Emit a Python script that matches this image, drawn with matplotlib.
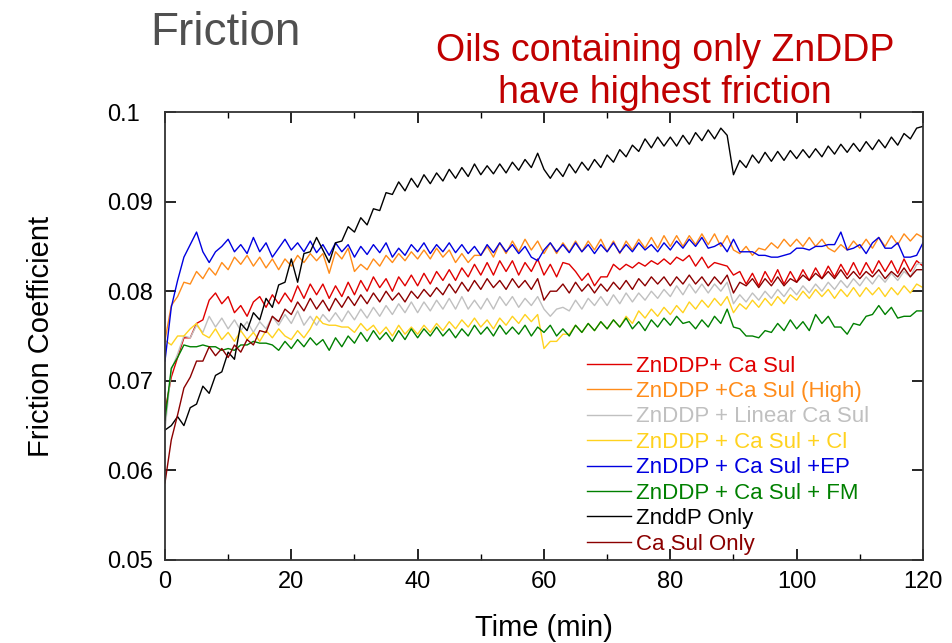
import numpy as np
import matplotlib
matplotlib.use("Agg")
import matplotlib.pyplot as plt

plt.rcParams['font.family'] = ['Liberation Sans', 'DejaVu Sans']

# friction coefficient, sampled every minute, in units of 1e-4
time_min = np.arange(0, 121)

zn_ca = [666, 704, 726, 748, 748, 764, 768, 790, 798, 786,
         794, 776, 784, 772, 788, 794, 782, 796, 786, 798,
         788, 806, 792, 808, 796, 808, 792, 806, 794, 810,
         796, 812, 800, 816, 804, 814, 800, 816, 806, 818,
         806, 820, 808, 822, 812, 824, 812, 826, 816, 830,
         818, 832, 818, 834, 822, 834, 818, 832, 822, 836,
         818, 830, 816, 832, 830, 822, 812, 820, 806, 816,
         816, 830, 824, 830, 826, 832, 828, 834, 830, 836,
         830, 838, 834, 840, 828, 838, 826, 832, 830, 828,
         818, 822, 808, 820, 806, 822, 810, 824, 808, 822,
         810, 824, 812, 826, 814, 828, 816, 830, 818, 832,
         818, 832, 820, 834, 822, 834, 820, 836, 822, 834,
         828]

zn_ca_high = [745, 784, 794, 810, 808, 822, 814, 826, 818, 832,
              824, 838, 830, 840, 828, 838, 826, 836, 824, 836,
              828, 840, 832, 842, 834, 842, 820, 844, 836, 848,
              822, 830, 824, 836, 828, 840, 832, 842, 834, 844,
              836, 846, 836, 848, 838, 846, 832, 842, 832, 840,
              840, 850, 838, 854, 842, 856, 844, 858, 846, 856,
              842, 854, 842, 854, 844, 856, 844, 856, 846, 858,
              844, 856, 842, 856, 846, 858, 848, 860, 848, 862,
              850, 862, 850, 862, 852, 864, 852, 864, 850, 862,
              846, 842, 850, 840, 848, 846, 854, 848, 858, 850,
              858, 850, 860, 850, 858, 848, 844, 852, 846, 856,
              848, 858, 848, 860, 850, 862, 852, 864, 856, 864,
              860]

zn_linear = [645, 712, 730, 750, 748, 762, 754, 772, 760, 770,
             758, 768, 756, 766, 754, 766, 758, 772, 762, 774,
             764, 778, 762, 772, 762, 774, 766, 776, 766, 778,
             768, 780, 770, 782, 772, 784, 774, 786, 776, 788,
             776, 788, 778, 790, 780, 792, 780, 794, 780, 790,
             780, 792, 780, 794, 784, 794, 782, 792, 784, 794,
             780, 772, 780, 782, 778, 790, 780, 792, 784, 794,
             784, 796, 786, 798, 788, 798, 790, 800, 792, 802,
             794, 806, 796, 808, 798, 808, 798, 808, 800, 810,
             786, 796, 788, 798, 790, 800, 792, 802, 794, 804,
             796, 806, 798, 808, 800, 810, 802, 812, 804, 814,
             806, 816, 808, 818, 810, 820, 812, 822, 816, 830,
             832]

zn_ca_cl = [745, 740, 750, 750, 758, 764, 752, 748, 758, 746,
            754, 744, 756, 746, 754, 744, 756, 748, 758, 750,
            746, 756, 748, 758, 772, 764, 762, 762, 760, 760,
            754, 764, 756, 762, 752, 760, 750, 762, 752, 760,
            752, 762, 754, 764, 756, 766, 758, 768, 760, 770,
            760, 768, 758, 770, 762, 772, 764, 774, 766, 774,
            736, 744, 744, 752, 752, 762, 754, 764, 756, 766,
            758, 768, 760, 772, 764, 778, 770, 780, 772, 782,
            774, 784, 776, 788, 780, 790, 782, 792, 784, 794,
            776, 786, 780, 790, 782, 792, 784, 794, 786, 796,
            790, 800, 792, 802, 794, 802, 792, 802, 794, 804,
            794, 804, 796, 804, 794, 804, 796, 806, 798, 808,
            804]

zn_ca_ep = [722, 782, 812, 838, 852, 866, 844, 832, 844, 850,
            858, 844, 852, 842, 860, 844, 854, 838, 848, 858,
            846, 854, 844, 856, 843, 852, 840, 854, 844, 852,
            838, 850, 841, 852, 843, 854, 838, 848, 840, 852,
            844, 854, 842, 852, 844, 854, 843, 852, 842, 850,
            840, 852, 843, 854, 844, 852, 842, 850, 838, 834,
            846, 854, 844, 852, 843, 854, 844, 852, 842, 852,
            844, 854, 843, 852, 844, 854, 846, 852, 844, 854,
            846, 856, 848, 858, 850, 860, 848, 850, 854, 844,
            858, 844, 844, 844, 840, 840, 838, 838, 840, 842,
            848, 848, 846, 850, 850, 852, 852, 866, 846, 848,
            852, 842, 854, 860, 848, 848, 854, 838, 838, 840,
            854]

zn_ca_fm = [656, 714, 726, 740, 738, 738, 740, 738, 738, 734,
            736, 734, 740, 740, 744, 742, 742, 740, 734, 744,
            736, 746, 738, 748, 740, 746, 734, 748, 738, 750,
            742, 754, 744, 756, 746, 754, 744, 756, 746, 758,
            748, 758, 750, 760, 750, 758, 748, 758, 750, 762,
            752, 760, 750, 762, 752, 760, 752, 762, 750, 760,
            754, 762, 750, 758, 750, 762, 754, 764, 756, 766,
            758, 768, 760, 770, 758, 766, 756, 768, 760, 770,
            762, 772, 764, 766, 758, 768, 760, 772, 764, 780,
            760, 758, 750, 750, 748, 756, 754, 764, 756, 768,
            758, 766, 756, 774, 764, 772, 760, 760, 752, 764,
            762, 772, 774, 784, 774, 782, 770, 772, 772, 778,
            778]

zn_only = [645, 650, 660, 650, 670, 674, 694, 686, 706, 710,
           732, 724, 764, 756, 776, 768, 792, 782, 807, 810,
           836, 810, 842, 844, 860, 846, 832, 854, 856, 872,
           866, 882, 874, 892, 890, 910, 908, 922, 912, 926,
           916, 930, 920, 932, 923, 936, 926, 938, 928, 942,
           930, 940, 931, 942, 932, 944, 935, 947, 938, 954,
           936, 926, 937, 928, 942, 932, 944, 935, 947, 938,
           952, 944, 958, 950, 963, 956, 970, 960, 972, 962,
           972, 962, 974, 964, 977, 968, 980, 970, 982, 974,
           930, 946, 938, 952, 943, 955, 945, 956, 946, 957,
           948, 958, 949, 959, 950, 962, 953, 964, 955, 965,
           956, 967, 958, 969, 960, 972, 963, 976, 970, 982,
           984]

ca_only = [586, 634, 662, 692, 704, 722, 722, 738, 728, 736,
           726, 740, 732, 746, 740, 756, 754, 772, 766, 780,
           774, 788, 778, 792, 780, 790, 778, 792, 782, 794,
           784, 796, 786, 798, 788, 800, 790, 798, 788, 800,
           792, 802, 794, 804, 796, 808, 798, 810, 800, 812,
           802, 814, 804, 812, 802, 814, 804, 812, 802, 814,
           790, 800, 800, 808, 798, 810, 800, 808, 798, 808,
           800, 810, 802, 812, 802, 814, 806, 816, 808, 816,
           806, 816, 808, 818, 808, 816, 806, 816, 808, 818,
           798, 810, 806, 814, 804, 814, 806, 816, 806, 814,
           810, 818, 812, 820, 814, 822, 814, 824, 814, 822,
           814, 822, 816, 824, 814, 822, 816, 826, 816, 824,
           824]

labels = ["ZnDDP+ Ca Sul", "ZnDDP +Ca Sul (High)", "ZnDDP + Linear Ca Sul",
          "ZnDDP + Ca Sul + Cl", "ZnDDP + Ca Sul +EP", "ZnDDP + Ca Sul + FM",
          "ZnddP Only", "Ca Sul Only"]
series = [zn_ca, zn_ca_high, zn_linear, zn_ca_cl, zn_ca_ep, zn_ca_fm, zn_only, ca_only]
colors = ['#e00000', '#ff8c1a', '#c0c0c0', '#ffd21f', '#0000e0', '#008000', '#000000', '#8b0000']

y_ticks = [0.05, 0.06, 0.07, 0.08, 0.09, 0.1]
y_tick_labels = ["0.05", "0.06", "0.07", "0.08", "0.09", "0.1"]
x_ticks = [0, 20, 40, 60, 80, 100, 120]

fig = plt.figure(figsize=(9.53, 6.43), dpi=100)
ax = fig.add_axes([0.1731, 0.1291, 0.7954, 0.6967])

for vals, lab, col in zip(series, labels, colors):
    ax.plot(time_min, np.array(vals) / 1e4, color=col, lw=1.0, label=lab)

ax.set_xlim(0, 120)
ax.set_ylim(0.05, 0.1)
ax.set_xticks(x_ticks)
ax.set_xticks(np.arange(10, 120, 20), minor=True)
ax.set_yticks(y_ticks)
ax.set_yticklabels(y_tick_labels)
ax.tick_params(which='both', direction='in', top=True, right=True, labelsize=17)
ax.tick_params(axis='x', pad=8)
ax.tick_params(axis='y', pad=42)
for lbl in ax.get_yticklabels():
    lbl.set_horizontalalignment('left')
ax.tick_params(which='major', length=8, width=1.2)
ax.tick_params(which='minor', length=4, width=1.0)
for sp in ax.spines.values():
    sp.set_linewidth(1.3)
    sp.set_color('#333333')

ax.set_xlabel("Time (min)", fontsize=21, labelpad=15)
ax.set_ylabel("Friction Coefficient", fontsize=21, labelpad=37)

leg = ax.legend(loc='upper left', bbox_to_anchor=(0.616, 0.447), bbox_transform=fig.transFigure,
                frameon=False, fontsize=16, labelcolor='linecolor', handlelength=2.0,
                handletextpad=0.2, labelspacing=0.2, borderpad=0, borderaxespad=0)

fig.text(0.158, 0.948, "Friction", fontsize=33, color='#505050', ha='left', va='center')
fig.text(0.698, 0.888, "Oils containing only ZnDDP\nhave highest friction", fontsize=27,
         color='#c00000', ha='center', va='center', linespacing=1.24)

fig.savefig("out.png", dpi=100)
